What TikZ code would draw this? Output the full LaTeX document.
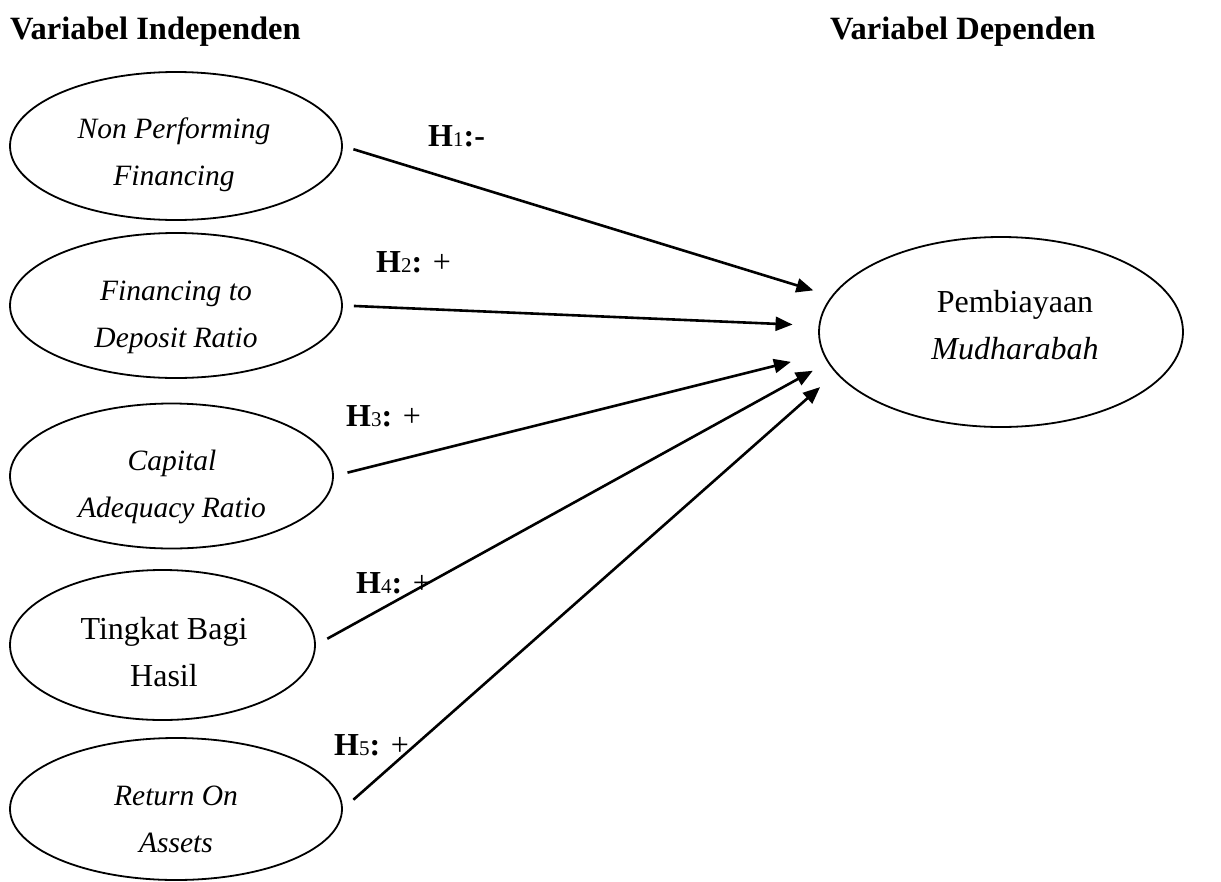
\documentclass[tikz,border=0pt]{standalone}
\usepackage{fontspec}
\setmainfont{Liberation Serif}
\usetikzlibrary{arrows.meta,shapes.geometric}
\newcommand{\twoline}[2]{\begin{tabular}[t]{@{}c@{}}#1\\#2\end{tabular}}
\newcommand{\hsub}[1]{{\fontsize{21}{21}\selectfont\mdseries #1}}
\newcommand{\itl}{\fontsize{29.5}{47}\selectfont\itshape}
\begin{document}
\begin{tikzpicture}[x=1pt,y=-1pt,
  ell/.style={draw, ellipse, line width=1.8pt, inner sep=0pt},
  txt/.style={inner sep=0pt, anchor=base, font=\fontsize{32}{47}\selectfont},
  head/.style={inner sep=0pt, anchor=base west, font=\fontsize{32.5}{32.5}\selectfont\bfseries},
  hlab/.style={inner sep=0pt, anchor=base west, font=\fontsize{32}{32}\selectfont\bfseries},
  arr/.style={line width=2.6pt, -{Triangle[length=17pt,width=14pt]}}
]
\useasboundingbox (0,0) rectangle (1221,881);

% headers
\node[head] (hi) at (10,39) {Variabel Independen};
\node[head] (hd) at (830,39) {Variabel Dependen};

% independent variables
\node[ell, minimum width=332pt, minimum height=148pt] (n1) at (176,146) {};
\node[ell, minimum width=332pt, minimum height=145pt] (n2) at (176,305.5) {};
\node[ell, minimum width=323pt, minimum height=145pt] (n3) at (171.5,476) {};
\node[ell, minimum width=305pt, minimum height=150pt] (n4) at (162.5,645) {};
\node[ell, minimum width=332pt, minimum height=142pt] (n5) at (176,809) {};

\node[txt] (n1t) at (174,138) {\twoline{\itl Non Performing}{\itl Financing}};
\node[txt] (n2t) at (176,300) {\twoline{\itl Financing to}{\itl Deposit Ratio}};
\node[txt] (n3t) at (172,470) {\twoline{\itl Capital}{\itl Adequacy Ratio}};
\node[txt] (n4t) at (164,639) {\twoline{Tingkat Bagi}{Hasil}};
\node[txt] (n5t) at (176,805) {\twoline{\itl Return On}{\itl Assets}};

% dependent variable
\node[ell, minimum width=364pt, minimum height=190pt] (pm) at (1001,332) {};
\node[txt] (pmt) at (1015,312) {\twoline{Pembiayaan}{\itshape Mudharabah}};

% connectors
\draw[arr, shorten <=11pt, shorten >=19pt] (n1.east) -- (pm.168);
\draw[arr, shorten <=11pt, shorten >=26pt] (n2.east) -- (pm.178.6);
\draw[arr, shorten <=14pt, shorten >=33pt] (n3.east) -- (pm.187.7);
\draw[arr, shorten <=13pt, shorten >=17pt] (n4.east) -- (pm.190.3);
\draw[arr, shorten <=14pt, shorten >=21pt] (n5.east) -- (pm.194.4);

% hypothesis labels
\node[hlab] (h1) at (428,146) {H\hsub{1}:-};
\node[hlab] (h2) at (376,272) {H\hsub{2}: {\mdseries +}};
\node[hlab] (h3) at (346,426) {H\hsub{3}: {\mdseries +}};
\node[hlab] (h4) at (356,593) {H\hsub{4}: {\mdseries +}};
\node[hlab] (h5) at (334,755) {H\hsub{5}: {\mdseries +}};
\end{tikzpicture}
\end{document}
